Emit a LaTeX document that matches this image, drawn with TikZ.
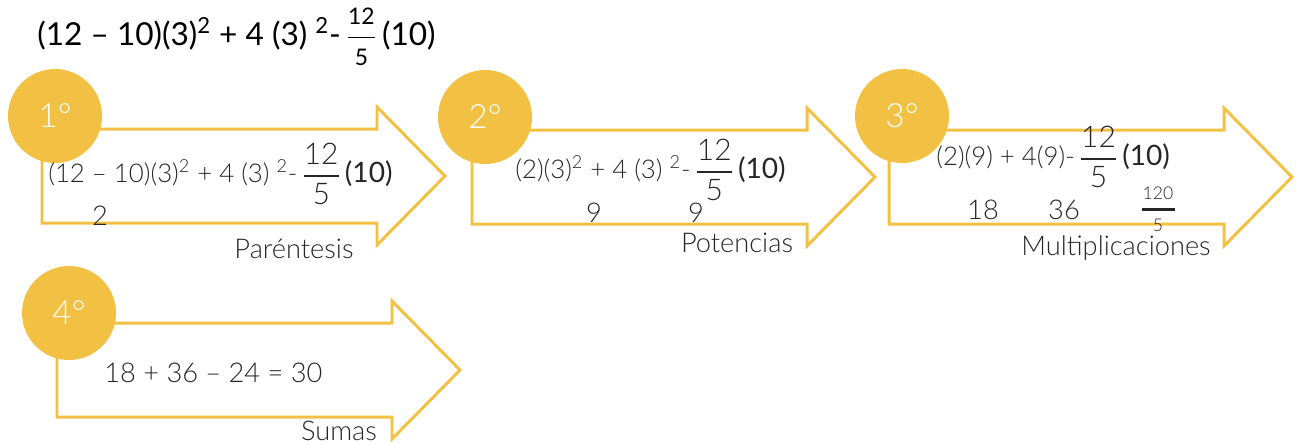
\documentclass[tikz,border=0pt]{standalone}
\usepackage{amsmath}
\usepackage{fontspec}
\setmainfont{Lato}
\newfontfamily\lt{Lato Light}
\usepackage{tikz}
\usepackage{xcolor}

\newcommand\fr[2]{$\genfrac{}{}{1.2pt}{0}{\mbox{\fontsize{17}{20}\selectfont #1}}{\mbox{\fontsize{17}{20}\selectfont #2}}$}
\newcommand\frs[2]{$\genfrac{}{}{1pt}{0}{\mbox{\fontsize{13}{14}\selectfont #1}}{\mbox{\fontsize{13}{14}\selectfont #2}}$}
\newcommand\diez{\normalfont\fontsize{16}{19}\selectfont(10)}

\begin{document}
\begin{tikzpicture}[x=0.02cm,y=-0.02cm,
  paso/.style={circle,fill=mango,minimum size=1.88cm,inner sep=0,text=white,font=\lt\fontsize{19}{22}\selectfont},
  flecha/.style={draw=mango,line width=1.7pt},
  txt/.style={anchor=base west,inner sep=0,text=ink,font=\lt\fontsize{15.5}{18}\selectfont},
  ecuacion/.style={txt,font=\lt\fontsize{14.7}{18}\selectfont},
  etiqueta/.style={txt,anchor=base},
  titulo/.style={anchor=base west,inner sep=0,text=black,font=\fontsize{18}{21}\selectfont}]
\definecolor{mango}{HTML}{F2C144}
\definecolor{ink}{HTML}{262626}
\useasboundingbox (0,0) rectangle (1298,444);
\node[titulo] (expr) at (37,45) {(12 – 10)(3)\textsuperscript{2} + 4 (3) \textsuperscript{2}-\,\frs{12}{5}\,(10)};
  \foreach \nm/\x/\yc in {a/42/176,b/472/177,c/889/177,d/57/370}
  {  \draw[flecha] (\x,\yc-47) -- ++(335,0) -- ++(0,-22) -- (\x+403,\yc) -- (\x+335,\yc+69) -- ++(0,-22) -- (\x,\yc+47) -- cycle;}
  \foreach \n/\x/\y in {1/55/116,2/485/117,3/902/116,4/69/313}
  {  \node[paso] (p\n) at (\x,\y) {\n°};}
\node[ecuacion] (e1) at (48,182) {(12 – 10)(3)\textsuperscript{2} + 4 (3) \textsuperscript{2}-\,\fr{12}{5}\,\diez};
\node[etiqueta] (r1) at (100,225) {2};
\node[etiqueta] (l1) at (294,258) {Paréntesis};
\node[ecuacion] (e2) at (515,178) {(2)(3)\textsuperscript{2} + 4 (3) \textsuperscript{2}-\,\fr{12}{5}\,\diez};
\node[etiqueta] (r2a) at (594,222) {9};
\node[etiqueta] (r2b) at (696,222) {9};
\node[etiqueta] (l2) at (737,252) {Potencias};
\node[ecuacion] (e3) at (936,165) {(2)(9) + 4(9)-\,\fr{12}{5}\,\diez};
\node[etiqueta] (r3a) at (983,219) {18};
\node[etiqueta] (r3b) at (1064,219) {36};
\node[etiqueta,font=\lt\fontsize{10}{12}\selectfont,align=center] (r3c) at (1158,231) {120\\[-5.8pt]\rule{0.66cm}{0.06cm}\\[-0.5pt]5};
\node[etiqueta] (l3) at (1116,255) {Multiplicaciones};
\node[txt] (e4) at (104,382) {18 + 36 – 24 = 30};
\node[etiqueta] (l4) at (339,440) {Sumas};
\end{tikzpicture}
\end{document}
